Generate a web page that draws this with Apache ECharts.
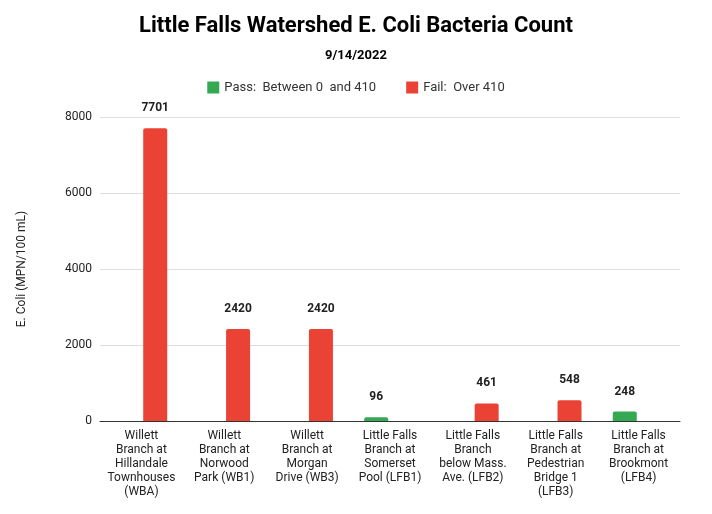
<!DOCTYPE html>
<html>
<head>
<meta charset="utf-8">
<script src="https://cdn.jsdelivr.net/npm/echarts@6/dist/echarts.min.js"></script>
<style>html,body{margin:0;padding:0;background:#fff;}</style>
</head>
<body>
<div id="main" style="width:712px;height:514px;"></div>
<script>
// 数据
var categories = [
  'Willett\nBranch at\nHillandale\nTownhouses\n(WBA)',
  'Willett\nBranch at\nNorwood\nPark (WB1)',
  'Willett\nBranch at\nMorgan\nDrive (WB3)',
  'Little Falls\nBranch at\nSomerset\nPool (LFB1)',
  'Little Falls\nBranch\nbelow Mass.\nAve. (LFB2)',
  'Little Falls\nBranch at\nPedestrian\nBridge 1\n(LFB3)',
  'Little Falls\nBranch at\nBrookmont\n(LFB4)'
];
var passValues = [null, null, null, 96, null, null, 248];
var failValues = [7701, 2420, 2420, null, 461, 548, null];
var yTicks = [0, 2000, 4000, 6000, 8000];

var myChart = echarts.init(document.getElementById('main'));
var label = {show: true, position: 'top', distance: 14, fontWeight: 'bold', fontSize: 12, color: '#222', fontFamily: 'Roboto'};
var option = {
  textStyle: {fontFamily: 'Roboto'},
  title: {
    text: 'Little Falls Watershed E. Coli Bacteria Count',
    subtext: '9/14/2022',
    left: 'center', top: 10, itemGap: 12,
    textStyle: {fontSize: 22, fontWeight: 'bold', color: '#000', fontFamily: 'Roboto'},
    subtextStyle: {fontSize: 13, fontWeight: 'bold', color: '#000', fontFamily: 'Roboto'}
  },
  legend: {
    top: 76, left: 'center', itemWidth: 12, itemHeight: 12, itemGap: 30,
    icon: 'rect', textStyle: {fontSize: 13, color: '#333'},
    data: ['Pass:  Between 0  and 410', 'Fail:  Over 410']
  },
  grid: {left: 100, right: 32, top: 117, bottom: 93},
  xAxis: {
    type: 'category', data: categories,
    axisTick: {show: false},
    axisLine: {lineStyle: {color: '#333'}},
    axisLabel: {interval: 0, fontSize: 12, color: '#222', lineHeight: 14}
  },
  yAxis: {
    type: 'value', min: 0, max: 8000, interval: 2000,
    name: 'E. Coli (MPN/100 mL)', nameLocation: 'middle', nameGap: 72,
    nameTextStyle: {fontSize: 12, color: '#222'},
    axisLabel: {fontSize: 12, color: '#222', formatter: function (v) { return yTicks.indexOf(v) >= 0 ? v : ''; }},
    splitLine: {lineStyle: {color: '#ddd'}}
  },
  series: [
    {name: 'Pass:  Between 0  and 410', type: 'bar', data: passValues, barWidth: 24, barGap: '15%',
     itemStyle: {color: '#34a853', borderRadius: [2, 2, 0, 0]}, label: label},
    {name: 'Fail:  Over 410', type: 'bar', data: failValues, barWidth: 24,
     itemStyle: {color: '#ea4335', borderRadius: [2, 2, 0, 0]}, label: label}
  ]
};
myChart.setOption(option);
</script>
</body>
</html>
